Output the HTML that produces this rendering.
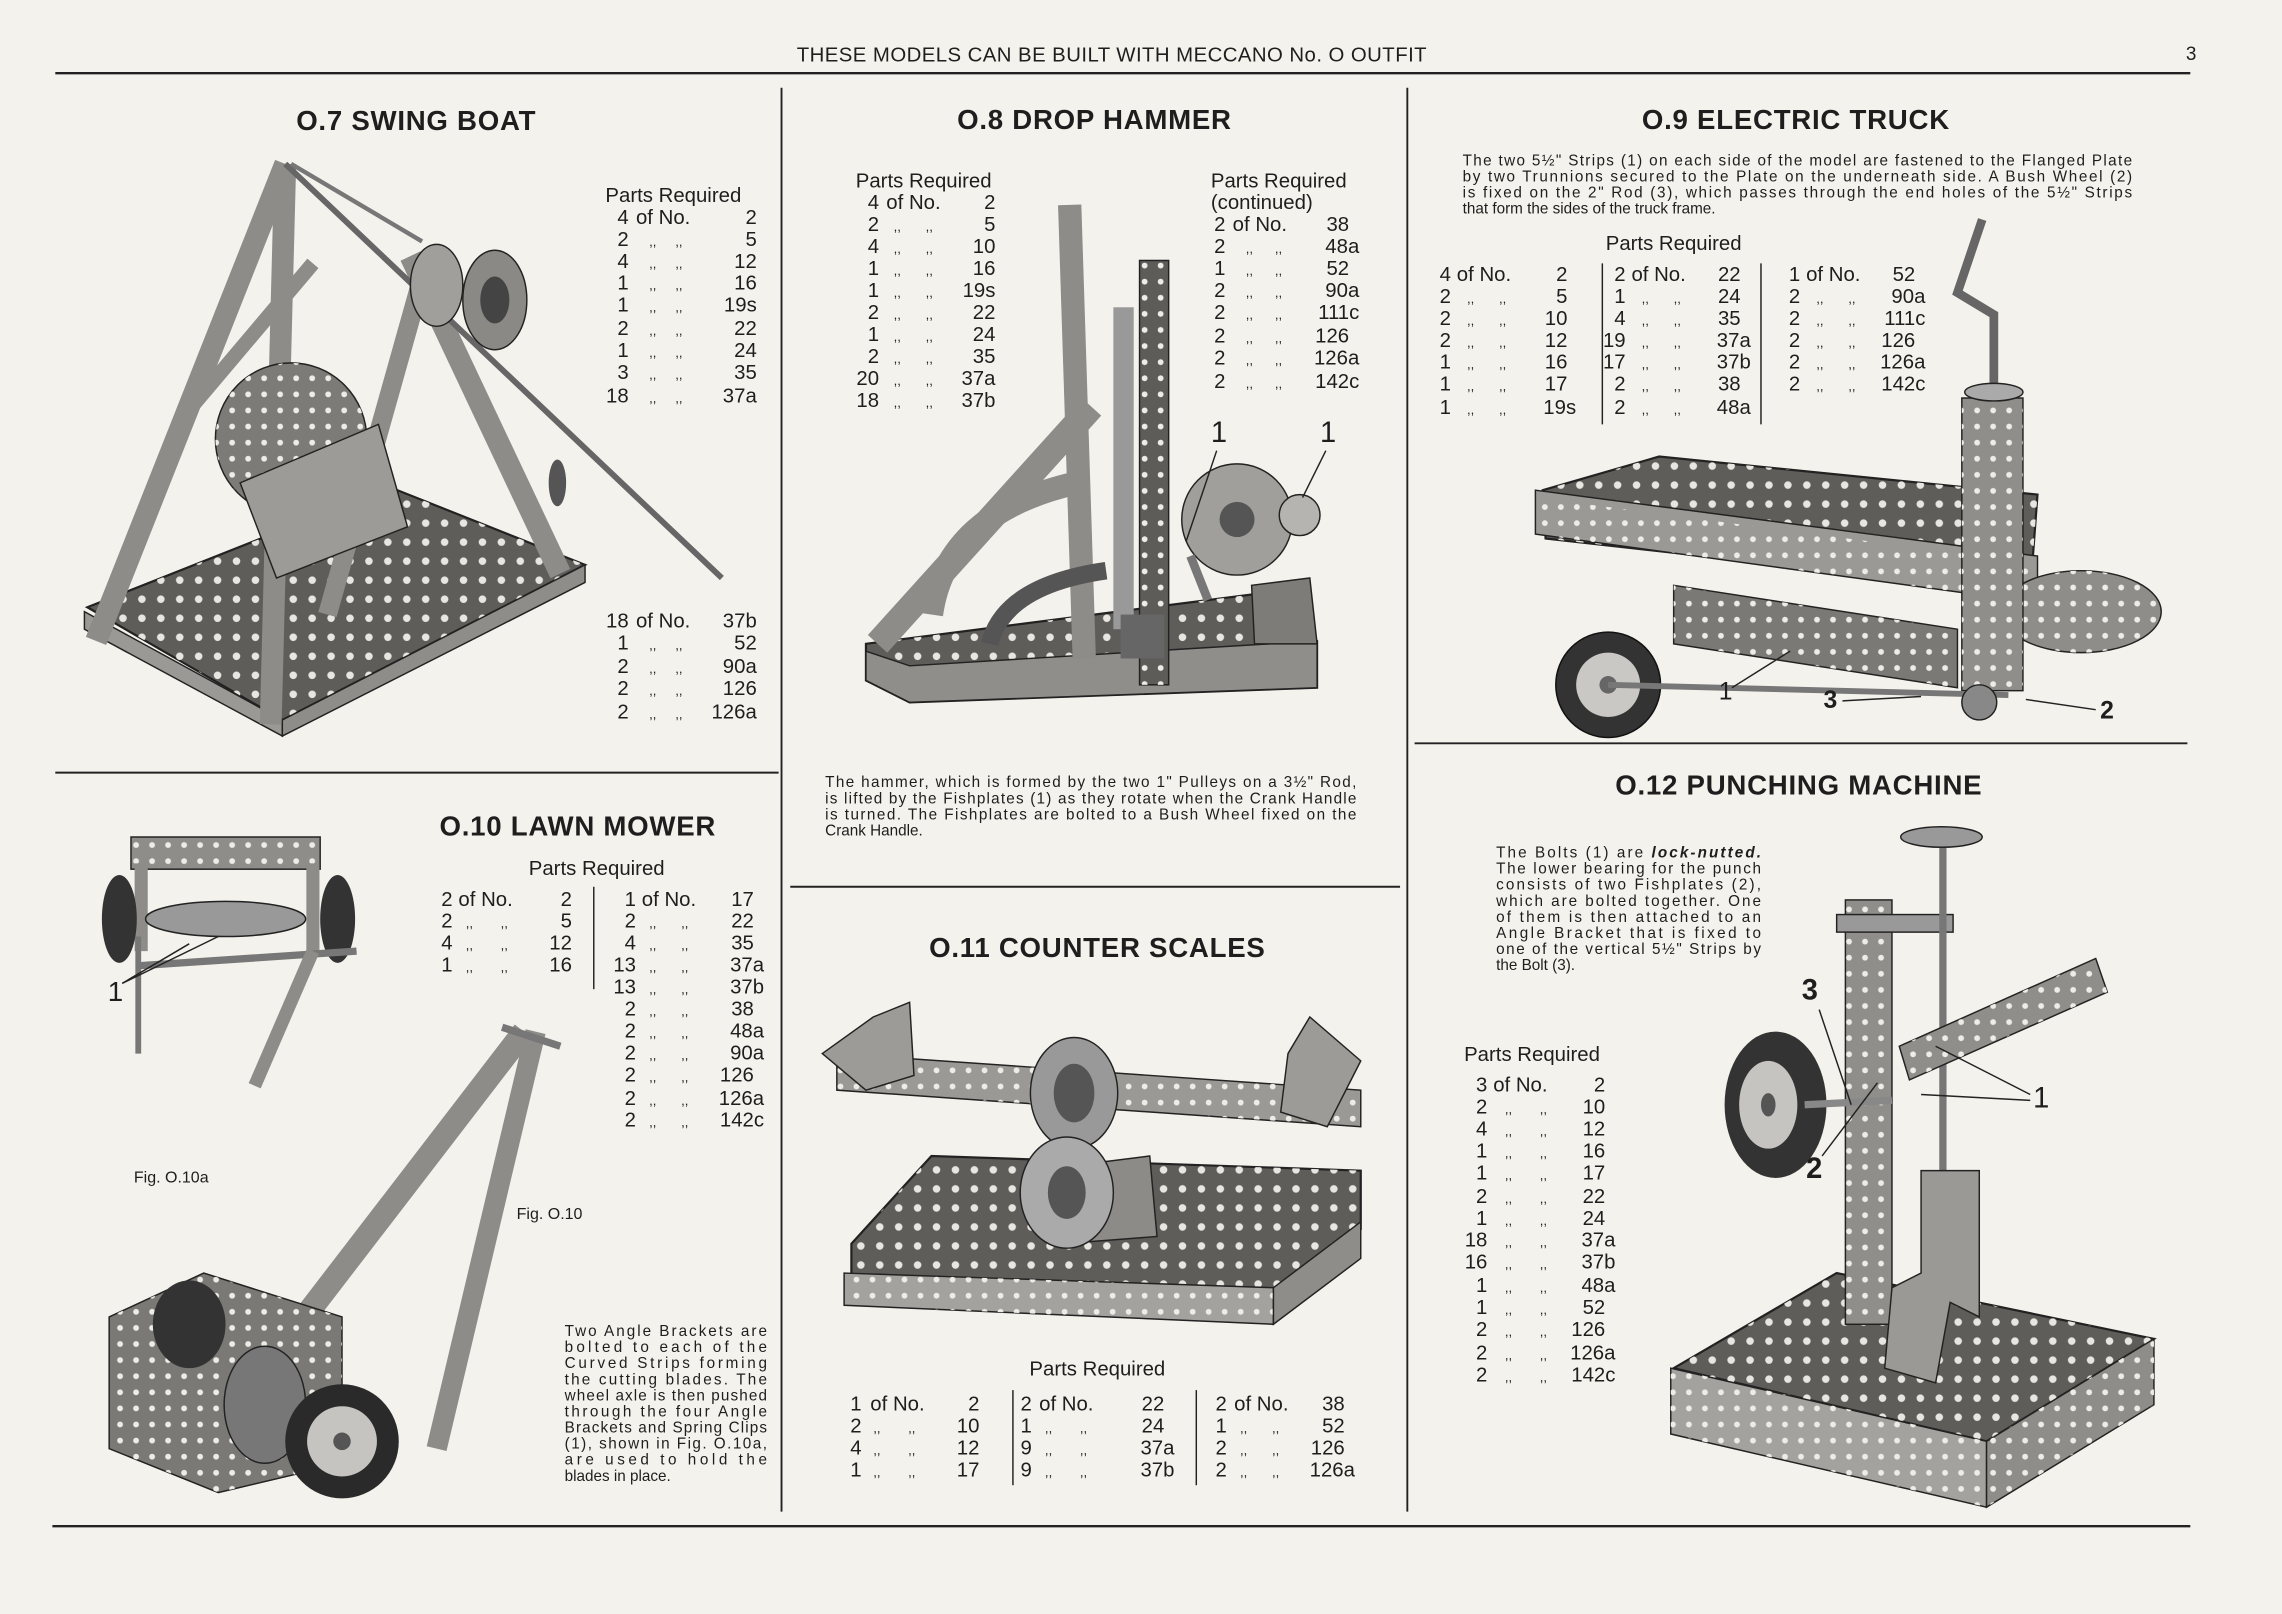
<!DOCTYPE html>
<html><head><meta charset="utf-8"><style>
html,body{margin:0;padding:0;background:#f4f2ec;}
svg{display:block}
text{font-family:"Liberation Sans",sans-serif;fill:#1e1e1e}
.t{font-weight:bold;font-size:19px;text-anchor:middle;letter-spacing:0.5px}
.p{font-size:14px}
.s{font-size:10.5px}
.e{text-anchor:end}
.d{font-size:9px}
.strip{stroke:#8d8c88;stroke-linecap:butt;fill:none}
.edge{stroke:#2a2a2a;fill:none;stroke-width:1.2}
.plate{fill:#5e5d5a;stroke:#222;stroke-width:1.5}
</style></head><body>
<svg width="2282" height="1614" viewBox="0 0 1568 1103" preserveAspectRatio="none" xmlns="http://www.w3.org/2000/svg">
<defs>
<pattern id="h" width="13" height="13" patternUnits="userSpaceOnUse"><circle cx="6.5" cy="6.5" r="2.6" fill="#e8e6e0"/></pattern>
<pattern id="hs" width="11" height="11" patternUnits="userSpaceOnUse"><circle cx="5.5" cy="5.5" r="2" fill="#eeece6"/></pattern>
</defs>
<rect width="1568" height="1103" fill="#f4f2ec"/>
<!-- header -->
<text x="764" y="42" class="p" style="text-anchor:middle;font-size:14px;letter-spacing:0.3px">THESE MODELS CAN BE BUILT WITH MECCANO No. O OUTFIT</text>
<text x="1502" y="41" class="p" style="font-size:13px">3</text>
<line x1="38" y1="50" x2="1505" y2="50" stroke="#222" stroke-width="1.6"/>
<line x1="36" y1="1043" x2="1505" y2="1043" stroke="#222" stroke-width="1.6"/>
<line x1="537" y1="60" x2="537" y2="1033" stroke="#222" stroke-width="1.3"/>
<line x1="967" y1="60" x2="967" y2="1033" stroke="#222" stroke-width="1.3"/>
<line x1="38" y1="528" x2="535" y2="528" stroke="#222" stroke-width="1.3"/>
<line x1="543" y1="606" x2="962" y2="606" stroke="#222" stroke-width="1.3"/>
<line x1="972" y1="508" x2="1503" y2="508" stroke="#222" stroke-width="1.3"/>

<!-- ============ O.7 SWING BOAT ============ -->
<text class="t" x="286" y="89">O.7  SWING BOAT</text>
<g>
<polygon class="plate" points="60,415 268,333 402,386 194,492"/>
<polygon points="60,415 268,333 402,386 194,492" fill="url(#h)"/>
<polygon points="58,418 194,492 194,503 58,430" fill="#9a9995" stroke="#222"/>
<polygon points="194,492 402,386 402,398 194,503" fill="#8e8d89" stroke="#222"/>
<line class="strip" x1="66" y1="438" x2="196" y2="112" stroke-width="15"/>
<line class="strip" x1="196" y1="112" x2="186" y2="495" stroke-width="15"/>
<line class="strip" x1="130" y1="280" x2="215" y2="180" stroke-width="10"/>
<line class="strip" x1="282" y1="175" x2="385" y2="392" stroke-width="15"/>
<line class="strip" x1="290" y1="190" x2="225" y2="420" stroke-width="13"/>
<line x1="196" y1="112" x2="496" y2="395" stroke="#666" stroke-width="4"/>
<line x1="200" y1="112" x2="290" y2="165" stroke="#777" stroke-width="3"/>
<circle cx="200" cy="300" r="52" fill="#7c7b77" stroke="#222"/>
<circle cx="200" cy="300" r="52" fill="url(#hs)"/>
<polygon points="165,330 260,290 280,360 190,395" fill="#9c9b97" stroke="#222"/>
<ellipse cx="340" cy="205" rx="22" ry="34" fill="#8a8985" stroke="#222"/>
<ellipse cx="340" cy="205" rx="10" ry="16" fill="#444"/>
<ellipse cx="300" cy="195" rx="18" ry="28" fill="#a09f9b" stroke="#222"/>
<ellipse cx="383" cy="330" rx="6" ry="16" fill="#555"/>
</g>
<text class="p" x="416" y="138">Parts Required</text>
<text class="p" y="153"><tspan x="432" class="e">4</tspan><tspan x="437">of No.</tspan><tspan x="520" class="e">2</tspan></text>
<text class="p" y="168"><tspan x="432" class="e">2</tspan><tspan x="446" class="d">,,</tspan><tspan x="464" class="d">,,</tspan><tspan x="520" class="e">5</tspan></text>
<text class="p" y="183"><tspan x="432" class="e">4</tspan><tspan x="446" class="d">,,</tspan><tspan x="464" class="d">,,</tspan><tspan x="520" class="e">12</tspan></text>
<text class="p" y="198"><tspan x="432" class="e">1</tspan><tspan x="446" class="d">,,</tspan><tspan x="464" class="d">,,</tspan><tspan x="520" class="e">16</tspan></text>
<text class="p" y="213"><tspan x="432" class="e">1</tspan><tspan x="446" class="d">,,</tspan><tspan x="464" class="d">,,</tspan><tspan x="520" class="e">19s</tspan></text>
<text class="p" y="229"><tspan x="432" class="e">2</tspan><tspan x="446" class="d">,,</tspan><tspan x="464" class="d">,,</tspan><tspan x="520" class="e">22</tspan></text>
<text class="p" y="244"><tspan x="432" class="e">1</tspan><tspan x="446" class="d">,,</tspan><tspan x="464" class="d">,,</tspan><tspan x="520" class="e">24</tspan></text>
<text class="p" y="259"><tspan x="432" class="e">3</tspan><tspan x="446" class="d">,,</tspan><tspan x="464" class="d">,,</tspan><tspan x="520" class="e">35</tspan></text>
<text class="p" y="275"><tspan x="432" class="e">18</tspan><tspan x="446" class="d">,,</tspan><tspan x="464" class="d">,,</tspan><tspan x="520" class="e">37a</tspan></text>
<text class="p" y="429"><tspan x="432" class="e">18</tspan><tspan x="437">of No.</tspan><tspan x="520" class="e">37b</tspan></text>
<text class="p" y="444"><tspan x="432" class="e">1</tspan><tspan x="446" class="d">,,</tspan><tspan x="464" class="d">,,</tspan><tspan x="520" class="e">52</tspan></text>
<text class="p" y="460"><tspan x="432" class="e">2</tspan><tspan x="446" class="d">,,</tspan><tspan x="464" class="d">,,</tspan><tspan x="520" class="e">90a</tspan></text>
<text class="p" y="475"><tspan x="432" class="e">2</tspan><tspan x="446" class="d">,,</tspan><tspan x="464" class="d">,,</tspan><tspan x="520" class="e">126</tspan></text>
<text class="p" y="491"><tspan x="432" class="e">2</tspan><tspan x="446" class="d">,,</tspan><tspan x="464" class="d">,,</tspan><tspan x="520" class="e">126a</tspan></text>

<!-- ============ O.8 DROP HAMMER ============ -->
<text class="t" x="752" y="88">O.8  DROP HAMMER</text>
<g>
<polygon class="plate" points="595,440 870,405 905,438 905,470 625,480 595,465"/>
<polygon points="595,440 870,405 905,438 625,455" fill="url(#h)"/>
<polygon points="595,445 625,455 905,438 905,470 625,480 595,465" fill="#8f8e8a" stroke="#222"/>
<line class="strip" x1="603" y1="440" x2="750" y2="278" stroke-width="18"/>
<line class="strip" x1="735" y1="140" x2="745" y2="450" stroke-width="16"/>
<rect x="783" y="178" width="20" height="290" fill="#5d5c59" stroke="#222"/>
<rect x="783" y="178" width="20" height="290" fill="url(#hs)"/>
<path d="M640,420 Q650,350 740,330" stroke="#8d8c88" stroke-width="16" fill="none"/>
<path d="M680,440 Q690,400 760,390" stroke="#555" stroke-width="12" fill="none"/>
<rect x="765" y="210" width="14" height="220" fill="#999"/>
<rect x="770" y="420" width="30" height="30" fill="#666"/>
<circle cx="850" cy="355" r="38" fill="#a09f9b" stroke="#222"/>
<circle cx="850" cy="355" r="12" fill="#555"/>
<circle cx="893" cy="352" r="14" fill="#b5b4b0" stroke="#222"/>
<line x1="818" y1="380" x2="830" y2="410" stroke="#777" stroke-width="6"/>
<polygon points="860,400 900,395 905,440 862,440" fill="#7d7c78" stroke="#222"/>
</g>
<text x="832" y="302" style="font-size:20px">1</text>
<line x1="836" y1="308" x2="815" y2="370" stroke="#222"/>
<text x="907" y="302" style="font-size:20px">1</text>
<line x1="911" y1="308" x2="895" y2="340" stroke="#222"/>
<text class="p" x="588" y="128">Parts Required</text>
<text class="p" y="143"><tspan x="604" class="e">4</tspan><tspan x="609">of No.</tspan><tspan x="684" class="e">2</tspan></text>
<text class="p" y="158"><tspan x="604" class="e">2</tspan><tspan x="614" class="d">,,</tspan><tspan x="636" class="d">,,</tspan><tspan x="684" class="e">5</tspan></text>
<text class="p" y="173"><tspan x="604" class="e">4</tspan><tspan x="614" class="d">,,</tspan><tspan x="636" class="d">,,</tspan><tspan x="684" class="e">10</tspan></text>
<text class="p" y="188"><tspan x="604" class="e">1</tspan><tspan x="614" class="d">,,</tspan><tspan x="636" class="d">,,</tspan><tspan x="684" class="e">16</tspan></text>
<text class="p" y="203"><tspan x="604" class="e">1</tspan><tspan x="614" class="d">,,</tspan><tspan x="636" class="d">,,</tspan><tspan x="684" class="e">19s</tspan></text>
<text class="p" y="218"><tspan x="604" class="e">2</tspan><tspan x="614" class="d">,,</tspan><tspan x="636" class="d">,,</tspan><tspan x="684" class="e">22</tspan></text>
<text class="p" y="233"><tspan x="604" class="e">1</tspan><tspan x="614" class="d">,,</tspan><tspan x="636" class="d">,,</tspan><tspan x="684" class="e">24</tspan></text>
<text class="p" y="248"><tspan x="604" class="e">2</tspan><tspan x="614" class="d">,,</tspan><tspan x="636" class="d">,,</tspan><tspan x="684" class="e">35</tspan></text>
<text class="p" y="263"><tspan x="604" class="e">20</tspan><tspan x="614" class="d">,,</tspan><tspan x="636" class="d">,,</tspan><tspan x="684" class="e">37a</tspan></text>
<text class="p" y="278"><tspan x="604" class="e">18</tspan><tspan x="614" class="d">,,</tspan><tspan x="636" class="d">,,</tspan><tspan x="684" class="e">37b</tspan></text>
<text class="p" x="832" y="128">Parts Required</text>
<text class="p" x="832" y="143">(continued)</text>
<text class="p" y="158"><tspan x="842" class="e">2</tspan><tspan x="847">of No.</tspan><tspan x="927" class="e">38</tspan></text>
<text class="p" y="173"><tspan x="842" class="e">2</tspan><tspan x="856" class="d">,,</tspan><tspan x="876" class="d">,,</tspan><tspan x="934" class="e">48a</tspan></text>
<text class="p" y="188"><tspan x="842" class="e">1</tspan><tspan x="856" class="d">,,</tspan><tspan x="876" class="d">,,</tspan><tspan x="927" class="e">52</tspan></text>
<text class="p" y="203"><tspan x="842" class="e">2</tspan><tspan x="856" class="d">,,</tspan><tspan x="876" class="d">,,</tspan><tspan x="934" class="e">90a</tspan></text>
<text class="p" y="218"><tspan x="842" class="e">2</tspan><tspan x="856" class="d">,,</tspan><tspan x="876" class="d">,,</tspan><tspan x="934" class="e">111c</tspan></text>
<text class="p" y="234"><tspan x="842" class="e">2</tspan><tspan x="856" class="d">,,</tspan><tspan x="876" class="d">,,</tspan><tspan x="927" class="e">126</tspan></text>
<text class="p" y="249"><tspan x="842" class="e">2</tspan><tspan x="856" class="d">,,</tspan><tspan x="876" class="d">,,</tspan><tspan x="934" class="e">126a</tspan></text>
<text class="p" y="265"><tspan x="842" class="e">2</tspan><tspan x="856" class="d">,,</tspan><tspan x="876" class="d">,,</tspan><tspan x="934" class="e">142c</tspan></text>
<text class="s" x="567" y="538" textLength="365">The hammer, which is formed by the two 1" Pulleys on a 3½" Rod,</text>
<text class="s" x="567" y="549" textLength="365">is lifted by the Fishplates (1) as they rotate when the Crank Handle</text>
<text class="s" x="567" y="560" textLength="365">is turned. The Fishplates are bolted to a Bush Wheel fixed on the</text>
<text class="s" x="567" y="571">Crank Handle.</text>

<!-- ============ O.9 ELECTRIC TRUCK ============ -->
<text class="t" x="1234" y="88">O.9  ELECTRIC TRUCK</text>
<text class="s" x="1005" y="113" textLength="460">The two 5½" Strips (1) on each side of the model are fastened to the Flanged Plate</text>
<text class="s" x="1005" y="124" textLength="460">by two Trunnions secured to the Plate on the underneath side. A Bush Wheel (2)</text>
<text class="s" x="1005" y="135" textLength="460">is fixed on the 2" Rod (3), which passes through the end holes of the 5½" Strips</text>
<text class="s" x="1005" y="146">that form the sides of the truck frame.</text>
<text class="p" x="1150" y="171" style="text-anchor:middle">Parts Required</text>
<line x1="1101" y1="180" x2="1101" y2="290" stroke="#222"/>
<line x1="1210" y1="180" x2="1210" y2="290" stroke="#222"/>
<text class="p" y="192"><tspan x="997" class="e">4</tspan><tspan x="1001">of No.</tspan><tspan x="1077" class="e">2</tspan></text>
<text class="p" y="207"><tspan x="997" class="e">2</tspan><tspan x="1008" class="d">,,</tspan><tspan x="1030" class="d">,,</tspan><tspan x="1077" class="e">5</tspan></text>
<text class="p" y="222"><tspan x="997" class="e">2</tspan><tspan x="1008" class="d">,,</tspan><tspan x="1030" class="d">,,</tspan><tspan x="1077" class="e">10</tspan></text>
<text class="p" y="237"><tspan x="997" class="e">2</tspan><tspan x="1008" class="d">,,</tspan><tspan x="1030" class="d">,,</tspan><tspan x="1077" class="e">12</tspan></text>
<text class="p" y="252"><tspan x="997" class="e">1</tspan><tspan x="1008" class="d">,,</tspan><tspan x="1030" class="d">,,</tspan><tspan x="1077" class="e">16</tspan></text>
<text class="p" y="267"><tspan x="997" class="e">1</tspan><tspan x="1008" class="d">,,</tspan><tspan x="1030" class="d">,,</tspan><tspan x="1077" class="e">17</tspan></text>
<text class="p" y="283"><tspan x="997" class="e">1</tspan><tspan x="1008" class="d">,,</tspan><tspan x="1030" class="d">,,</tspan><tspan x="1083" class="e">19s</tspan></text>
<text class="p" y="192"><tspan x="1117" class="e">2</tspan><tspan x="1121">of No.</tspan><tspan x="1196" class="e">22</tspan></text>
<text class="p" y="207"><tspan x="1117" class="e">1</tspan><tspan x="1128" class="d">,,</tspan><tspan x="1150" class="d">,,</tspan><tspan x="1196" class="e">24</tspan></text>
<text class="p" y="222"><tspan x="1117" class="e">4</tspan><tspan x="1128" class="d">,,</tspan><tspan x="1150" class="d">,,</tspan><tspan x="1196" class="e">35</tspan></text>
<text class="p" y="237"><tspan x="1117" class="e">19</tspan><tspan x="1128" class="d">,,</tspan><tspan x="1150" class="d">,,</tspan><tspan x="1203" class="e">37a</tspan></text>
<text class="p" y="252"><tspan x="1117" class="e">17</tspan><tspan x="1128" class="d">,,</tspan><tspan x="1150" class="d">,,</tspan><tspan x="1203" class="e">37b</tspan></text>
<text class="p" y="267"><tspan x="1117" class="e">2</tspan><tspan x="1128" class="d">,,</tspan><tspan x="1150" class="d">,,</tspan><tspan x="1196" class="e">38</tspan></text>
<text class="p" y="283"><tspan x="1117" class="e">2</tspan><tspan x="1128" class="d">,,</tspan><tspan x="1150" class="d">,,</tspan><tspan x="1203" class="e">48a</tspan></text>
<text class="p" y="192"><tspan x="1237" class="e">1</tspan><tspan x="1241">of No.</tspan><tspan x="1316" class="e">52</tspan></text>
<text class="p" y="207"><tspan x="1237" class="e">2</tspan><tspan x="1248" class="d">,,</tspan><tspan x="1270" class="d">,,</tspan><tspan x="1323" class="e">90a</tspan></text>
<text class="p" y="222"><tspan x="1237" class="e">2</tspan><tspan x="1248" class="d">,,</tspan><tspan x="1270" class="d">,,</tspan><tspan x="1323" class="e">111c</tspan></text>
<text class="p" y="237"><tspan x="1237" class="e">2</tspan><tspan x="1248" class="d">,,</tspan><tspan x="1270" class="d">,,</tspan><tspan x="1316" class="e">126</tspan></text>
<text class="p" y="252"><tspan x="1237" class="e">2</tspan><tspan x="1248" class="d">,,</tspan><tspan x="1270" class="d">,,</tspan><tspan x="1323" class="e">126a</tspan></text>
<text class="p" y="267"><tspan x="1237" class="e">2</tspan><tspan x="1248" class="d">,,</tspan><tspan x="1270" class="d">,,</tspan><tspan x="1323" class="e">142c</tspan></text>
<g>
<polygon class="plate" points="1060,335 1140,312 1400,338 1395,405 1062,368"/>
<polygon points="1060,335 1140,312 1400,338 1395,405 1062,368" fill="url(#h)"/>
<polygon points="1055,335 1400,380 1400,412 1055,365" fill="#9a9995" stroke="#222"/>
<polygon points="1055,340 1400,385 1400,412 1055,365" fill="url(#hs)"/>
<polygon points="1150,400 1345,430 1345,470 1150,440" fill="#7a7975" stroke="#222"/>
<polygon points="1150,400 1345,430 1345,470 1150,440" fill="url(#hs)"/>
<ellipse cx="1430" cy="418" rx="55" ry="28" fill="#8e8d89" stroke="#222"/>
<ellipse cx="1430" cy="418" rx="55" ry="28" fill="url(#hs)"/>
<rect x="1348" y="272" width="42" height="200" fill="#8f8e8a" stroke="#222"/>
<rect x="1348" y="272" width="42" height="200" fill="url(#hs)"/>
<path d="M1370,265 L1370,215 L1345,200 L1362,150" stroke="#666" stroke-width="6" fill="none"/>
<ellipse cx="1370" cy="268" rx="20" ry="6" fill="#aaa" stroke="#222"/>
<circle cx="1105" cy="468" r="36" fill="#333" stroke="#111"/>
<circle cx="1105" cy="468" r="22" fill="#c9c8c4"/>
<circle cx="1105" cy="468" r="6" fill="#666"/>
<line x1="1105" y1="468" x2="1380" y2="475" stroke="#777" stroke-width="4"/>
<circle cx="1360" cy="480" r="12" fill="#888" stroke="#222"/>
</g>
<text x="1181" y="478" style="font-size:17px">1</text>
<line x1="1190" y1="470" x2="1230" y2="445" stroke="#222"/>
<text x="1253" y="484" style="font-size:17px;font-weight:bold">3</text>
<line x1="1266" y1="479" x2="1320" y2="476" stroke="#222"/>
<text x="1443" y="491" style="font-size:17px;font-weight:bold">2</text>
<line x1="1392" y1="478" x2="1440" y2="485" stroke="#222"/>

<!-- ============ O.10 LAWN MOWER ============ -->
<text class="t" x="397" y="571">O.10  LAWN MOWER</text>
<text class="p" x="410" y="598" style="text-anchor:middle">Parts Required</text>
<line x1="408" y1="606" x2="408" y2="676" stroke="#222"/>
<text class="p" y="619"><tspan x="311" class="e">2</tspan><tspan x="315">of No.</tspan><tspan x="393" class="e">2</tspan></text>
<text class="p" y="634"><tspan x="311" class="e">2</tspan><tspan x="320" class="d">,,</tspan><tspan x="344" class="d">,,</tspan><tspan x="393" class="e">5</tspan></text>
<text class="p" y="649"><tspan x="311" class="e">4</tspan><tspan x="320" class="d">,,</tspan><tspan x="344" class="d">,,</tspan><tspan x="393" class="e">12</tspan></text>
<text class="p" y="664"><tspan x="311" class="e">1</tspan><tspan x="320" class="d">,,</tspan><tspan x="344" class="d">,,</tspan><tspan x="393" class="e">16</tspan></text>
<text class="p" y="619"><tspan x="437" class="e">1</tspan><tspan x="441">of No.</tspan><tspan x="518" class="e">17</tspan></text>
<text class="p" y="634"><tspan x="437" class="e">2</tspan><tspan x="446" class="d">,,</tspan><tspan x="468" class="d">,,</tspan><tspan x="518" class="e">22</tspan></text>
<text class="p" y="649"><tspan x="437" class="e">4</tspan><tspan x="446" class="d">,,</tspan><tspan x="468" class="d">,,</tspan><tspan x="518" class="e">35</tspan></text>
<text class="p" y="664"><tspan x="437" class="e">13</tspan><tspan x="446" class="d">,,</tspan><tspan x="468" class="d">,,</tspan><tspan x="525" class="e">37a</tspan></text>
<text class="p" y="679"><tspan x="437" class="e">13</tspan><tspan x="446" class="d">,,</tspan><tspan x="468" class="d">,,</tspan><tspan x="525" class="e">37b</tspan></text>
<text class="p" y="694"><tspan x="437" class="e">2</tspan><tspan x="446" class="d">,,</tspan><tspan x="468" class="d">,,</tspan><tspan x="518" class="e">38</tspan></text>
<text class="p" y="709"><tspan x="437" class="e">2</tspan><tspan x="446" class="d">,,</tspan><tspan x="468" class="d">,,</tspan><tspan x="525" class="e">48a</tspan></text>
<text class="p" y="724"><tspan x="437" class="e">2</tspan><tspan x="446" class="d">,,</tspan><tspan x="468" class="d">,,</tspan><tspan x="525" class="e">90a</tspan></text>
<text class="p" y="739"><tspan x="437" class="e">2</tspan><tspan x="446" class="d">,,</tspan><tspan x="468" class="d">,,</tspan><tspan x="518" class="e">126</tspan></text>
<text class="p" y="755"><tspan x="437" class="e">2</tspan><tspan x="446" class="d">,,</tspan><tspan x="468" class="d">,,</tspan><tspan x="525" class="e">126a</tspan></text>
<text class="p" y="770"><tspan x="437" class="e">2</tspan><tspan x="446" class="d">,,</tspan><tspan x="468" class="d">,,</tspan><tspan x="525" class="e">142c</tspan></text>
<g>
<rect x="90" y="572" width="130" height="22" fill="#8e8d89" stroke="#222"/>
<rect x="90" y="572" width="130" height="22" fill="url(#hs)"/>
<line class="strip" x1="97" y1="590" x2="97" y2="650" stroke-width="9"/>
<line class="strip" x1="215" y1="590" x2="215" y2="650" stroke-width="9"/>
<ellipse cx="82" cy="628" rx="12" ry="30" fill="#333"/>
<ellipse cx="232" cy="628" rx="12" ry="30" fill="#333"/>
<ellipse cx="155" cy="628" rx="55" ry="12" fill="#999" stroke="#222"/>
<line x1="95" y1="660" x2="245" y2="650" stroke="#777" stroke-width="5"/>
<line x1="95" y1="640" x2="95" y2="720" stroke="#777" stroke-width="4"/>
<line class="strip" x1="215" y1="650" x2="175" y2="742" stroke-width="9"/>
</g>
<text x="74" y="684" style="font-size:19px">1</text>
<line x1="84" y1="672" x2="130" y2="645" stroke="#222"/>
<line x1="84" y1="672" x2="150" y2="640" stroke="#222"/>
<text x="92" y="808" style="font-size:11px">Fig. O.10a</text>
<text x="355" y="833" style="font-size:11px">Fig. O.10</text>
<g>
<line class="strip" x1="190" y1="925" x2="360" y2="705" stroke-width="16"/>
<line class="strip" x1="300" y1="990" x2="368" y2="705" stroke-width="14"/>
<line x1="345" y1="702" x2="385" y2="715" stroke="#777" stroke-width="5"/>
<polygon points="75,900 140,870 235,900 235,1000 150,1020 75,990" fill="#7a7975" stroke="#222"/>
<polygon points="75,900 140,870 235,900 235,1000 150,1020 75,990" fill="url(#hs)"/>
<ellipse cx="130" cy="905" rx="25" ry="30" fill="#333"/>
<ellipse cx="182" cy="960" rx="28" ry="40" fill="#777" stroke="#222"/>
<circle cx="235" cy="985" r="39" fill="#2a2a2a"/>
<circle cx="235" cy="985" r="24" fill="#c5c4c0"/>
<circle cx="235" cy="985" r="6" fill="#555"/>
</g>
<text class="s" x="388" y="913" textLength="139">Two Angle Brackets are</text>
<text class="s" x="388" y="924" textLength="139">bolted to each of the</text>
<text class="s" x="388" y="935" textLength="139">Curved Strips forming</text>
<text class="s" x="388" y="946" textLength="139">the cutting blades. The</text>
<text class="s" x="388" y="957" textLength="139">wheel axle is then pushed</text>
<text class="s" x="388" y="968" textLength="139">through the four Angle</text>
<text class="s" x="388" y="979" textLength="139">Brackets and Spring Clips</text>
<text class="s" x="388" y="990" textLength="139">(1), shown in Fig. O.10a,</text>
<text class="s" x="388" y="1001" textLength="139">are used to hold the</text>
<text class="s" x="388" y="1012">blades in place.</text>

<!-- ============ O.11 COUNTER SCALES ============ -->
<text class="t" x="754" y="654">O.11  COUNTER SCALES</text>
<g>
<polygon class="plate" points="585,850 640,790 935,800 935,840 875,885 585,880"/>
<polygon points="585,850 640,790 935,800 935,840 875,885 585,880" fill="url(#h)"/>
<polygon points="580,870 875,880 875,905 580,892" fill="#a3a29e" stroke="#222"/>
<polygon points="580,870 875,880 875,905 580,892" fill="url(#hs)"/>
<polygon points="875,880 935,835 935,860 875,905" fill="#8e8d89" stroke="#222"/>
<polygon points="575,720 935,745 935,770 575,745" fill="#9a9995" stroke="#222"/>
<polygon points="575,720 935,745 935,770 575,745" fill="url(#hs)"/>
<polygon points="565,720 600,695 625,685 628,735 595,745" fill="#9c9b97" stroke="#222"/>
<polygon points="885,720 900,695 935,725 912,770 880,760" fill="#9c9b97" stroke="#222"/>
<ellipse cx="738" cy="747" rx="30" ry="38" fill="#999" stroke="#222"/>
<ellipse cx="738" cy="747" rx="14" ry="20" fill="#555"/>
<polygon points="710,800 790,790 795,845 730,850" fill="#8c8b87" stroke="#222"/>
<ellipse cx="733" cy="815" rx="32" ry="38" fill="#aaa" stroke="#222"/>
<ellipse cx="733" cy="815" rx="13" ry="18" fill="#555"/>
</g>
<text class="p" x="754" y="940" style="text-anchor:middle">Parts Required</text>
<line x1="696" y1="950" x2="696" y2="1015" stroke="#222"/>
<line x1="822" y1="950" x2="822" y2="1015" stroke="#222"/>
<text class="p" y="964"><tspan x="592" class="e">1</tspan><tspan x="598">of No.</tspan><tspan x="673" class="e">2</tspan></text>
<text class="p" y="979"><tspan x="592" class="e">2</tspan><tspan x="600" class="d">,,</tspan><tspan x="624" class="d">,,</tspan><tspan x="673" class="e">10</tspan></text>
<text class="p" y="994"><tspan x="592" class="e">4</tspan><tspan x="600" class="d">,,</tspan><tspan x="624" class="d">,,</tspan><tspan x="673" class="e">12</tspan></text>
<text class="p" y="1009"><tspan x="592" class="e">1</tspan><tspan x="600" class="d">,,</tspan><tspan x="624" class="d">,,</tspan><tspan x="673" class="e">17</tspan></text>
<text class="p" y="964"><tspan x="709" class="e">2</tspan><tspan x="714">of No.</tspan><tspan x="800" class="e">22</tspan></text>
<text class="p" y="979"><tspan x="709" class="e">1</tspan><tspan x="718" class="d">,,</tspan><tspan x="742" class="d">,,</tspan><tspan x="800" class="e">24</tspan></text>
<text class="p" y="994"><tspan x="709" class="e">9</tspan><tspan x="718" class="d">,,</tspan><tspan x="742" class="d">,,</tspan><tspan x="807" class="e">37a</tspan></text>
<text class="p" y="1009"><tspan x="709" class="e">9</tspan><tspan x="718" class="d">,,</tspan><tspan x="742" class="d">,,</tspan><tspan x="807" class="e">37b</tspan></text>
<text class="p" y="964"><tspan x="843" class="e">2</tspan><tspan x="848">of No.</tspan><tspan x="924" class="e">38</tspan></text>
<text class="p" y="979"><tspan x="843" class="e">1</tspan><tspan x="852" class="d">,,</tspan><tspan x="874" class="d">,,</tspan><tspan x="924" class="e">52</tspan></text>
<text class="p" y="994"><tspan x="843" class="e">2</tspan><tspan x="852" class="d">,,</tspan><tspan x="874" class="d">,,</tspan><tspan x="924" class="e">126</tspan></text>
<text class="p" y="1009"><tspan x="843" class="e">2</tspan><tspan x="852" class="d">,,</tspan><tspan x="874" class="d">,,</tspan><tspan x="931" class="e">126a</tspan></text>

<!-- ============ O.12 PUNCHING MACHINE ============ -->
<text class="t" x="1236" y="543">O.12  PUNCHING MACHINE</text>
<text class="s" x="1028" y="586" textLength="182">The Bolts (1) are <tspan font-style="italic" font-weight="bold">lock-nutted.</tspan></text>
<text class="s" x="1028" y="597" textLength="182">The lower bearing for the punch</text>
<text class="s" x="1028" y="608" textLength="182">consists of two Fishplates (2),</text>
<text class="s" x="1028" y="619" textLength="182">which are bolted together. One</text>
<text class="s" x="1028" y="630" textLength="182">of them is then attached to an</text>
<text class="s" x="1028" y="641" textLength="182">Angle Bracket that is fixed to</text>
<text class="s" x="1028" y="652" textLength="182">one of the vertical 5½" Strips by</text>
<text class="s" x="1028" y="663">the Bolt (3).</text>
<text class="p" x="1006" y="725">Parts Required</text>
<text class="p" y="746"><tspan x="1022" class="e">3</tspan><tspan x="1026">of No.</tspan><tspan x="1103" class="e">2</tspan></text>
<text class="p" y="761"><tspan x="1022" class="e">2</tspan><tspan x="1034" class="d">,,</tspan><tspan x="1058" class="d">,,</tspan><tspan x="1103" class="e">10</tspan></text>
<text class="p" y="776"><tspan x="1022" class="e">4</tspan><tspan x="1034" class="d">,,</tspan><tspan x="1058" class="d">,,</tspan><tspan x="1103" class="e">12</tspan></text>
<text class="p" y="791"><tspan x="1022" class="e">1</tspan><tspan x="1034" class="d">,,</tspan><tspan x="1058" class="d">,,</tspan><tspan x="1103" class="e">16</tspan></text>
<text class="p" y="806"><tspan x="1022" class="e">1</tspan><tspan x="1034" class="d">,,</tspan><tspan x="1058" class="d">,,</tspan><tspan x="1103" class="e">17</tspan></text>
<text class="p" y="822"><tspan x="1022" class="e">2</tspan><tspan x="1034" class="d">,,</tspan><tspan x="1058" class="d">,,</tspan><tspan x="1103" class="e">22</tspan></text>
<text class="p" y="837"><tspan x="1022" class="e">1</tspan><tspan x="1034" class="d">,,</tspan><tspan x="1058" class="d">,,</tspan><tspan x="1103" class="e">24</tspan></text>
<text class="p" y="852"><tspan x="1022" class="e">18</tspan><tspan x="1034" class="d">,,</tspan><tspan x="1058" class="d">,,</tspan><tspan x="1110" class="e">37a</tspan></text>
<text class="p" y="867"><tspan x="1022" class="e">16</tspan><tspan x="1034" class="d">,,</tspan><tspan x="1058" class="d">,,</tspan><tspan x="1110" class="e">37b</tspan></text>
<text class="p" y="883"><tspan x="1022" class="e">1</tspan><tspan x="1034" class="d">,,</tspan><tspan x="1058" class="d">,,</tspan><tspan x="1110" class="e">48a</tspan></text>
<text class="p" y="898"><tspan x="1022" class="e">1</tspan><tspan x="1034" class="d">,,</tspan><tspan x="1058" class="d">,,</tspan><tspan x="1103" class="e">52</tspan></text>
<text class="p" y="913"><tspan x="1022" class="e">2</tspan><tspan x="1034" class="d">,,</tspan><tspan x="1058" class="d">,,</tspan><tspan x="1103" class="e">126</tspan></text>
<text class="p" y="929"><tspan x="1022" class="e">2</tspan><tspan x="1034" class="d">,,</tspan><tspan x="1058" class="d">,,</tspan><tspan x="1110" class="e">126a</tspan></text>
<text class="p" y="944"><tspan x="1022" class="e">2</tspan><tspan x="1034" class="d">,,</tspan><tspan x="1058" class="d">,,</tspan><tspan x="1110" class="e">142c</tspan></text>
<g>
<polygon class="plate" points="1150,935 1262,870 1480,915 1365,985"/>
<polygon points="1150,935 1262,870 1480,915 1365,985" fill="url(#h)"/>
<polygon points="1148,935 1365,985 1365,1030 1148,980" fill="#a3a29e" stroke="#222"/>
<polygon points="1148,935 1365,985 1365,1030 1148,980" fill="url(#hs)"/>
<polygon points="1365,985 1480,915 1480,960 1365,1030" fill="#8e8d89" stroke="#222"/>
<polygon points="1365,985 1480,915 1480,960 1365,1030" fill="url(#hs)"/>
<rect x="1268" y="615" width="32" height="290" fill="#8f8e8a" stroke="#222"/>
<rect x="1268" y="615" width="32" height="290" fill="url(#hs)"/>
<rect x="1262" y="625" width="80" height="12" fill="#999" stroke="#222"/>
<line x1="1335" y1="575" x2="1335" y2="870" stroke="#777" stroke-width="5"/>
<ellipse cx="1334" cy="572" rx="28" ry="7" fill="#999" stroke="#222"/>
<polygon points="1305,715 1440,655 1448,678 1312,738" fill="#8f8e8a" stroke="#222"/>
<polygon points="1305,715 1440,655 1448,678 1312,738" fill="url(#hs)"/>
<ellipse cx="1220" cy="755" rx="35" ry="50" fill="#333"/>
<ellipse cx="1215" cy="755" rx="20" ry="30" fill="#c5c4c0"/>
<ellipse cx="1215" cy="755" rx="5" ry="8" fill="#555"/>
<line x1="1240" y1="755" x2="1300" y2="752" stroke="#888" stroke-width="5"/>
<polygon points="1320,800 1360,800 1360,900 1340,890 1330,945 1295,935 1300,880 1320,870" fill="#9a9995" stroke="#222"/>
</g>
<text x="1238" y="683" style="font-size:20px;font-weight:bold">3</text>
<line x1="1250" y1="690" x2="1272" y2="755" stroke="#222"/>
<text x="1397" y="757" style="font-size:20px">1</text>
<line x1="1395" y1="748" x2="1330" y2="715" stroke="#222"/>
<line x1="1395" y1="752" x2="1320" y2="748" stroke="#222"/>
<text x="1241" y="805" style="font-size:20px;font-weight:bold">2</text>
<line x1="1252" y1="790" x2="1290" y2="740" stroke="#222"/>
</svg>
</body></html>
